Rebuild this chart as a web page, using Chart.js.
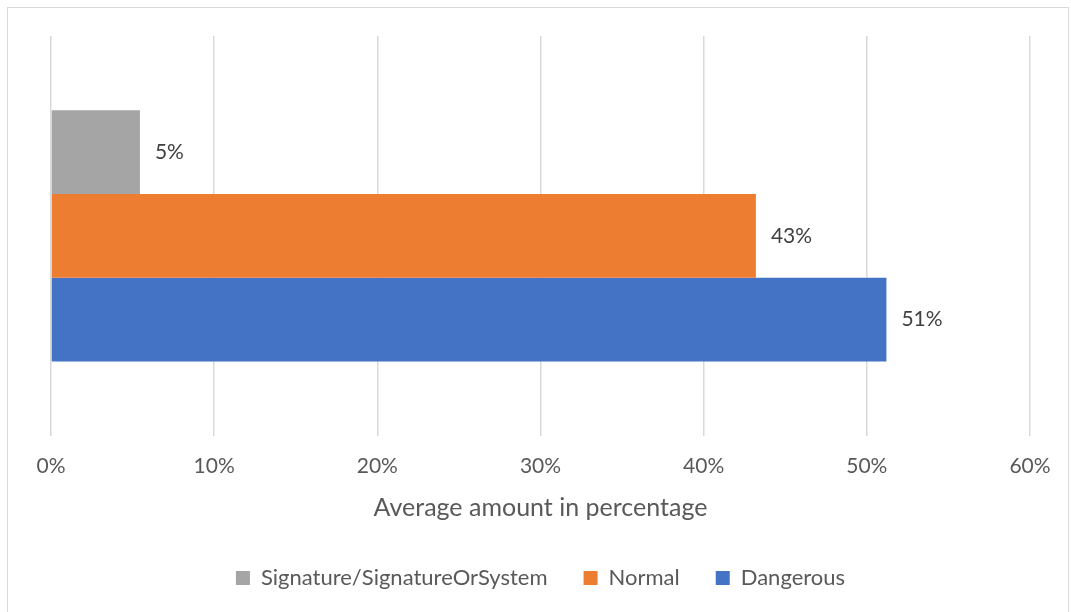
<!DOCTYPE html>
<html>
<head>
    <title>Permission levels</title>
    <style>
        body {
            margin: 0;
            padding: 0;
            background: #ffffff;
        }
        #frame {
            position: absolute;
            left: 7px;
            top: 7px;
            width: 1060px;
            height: 620px;
            border: 1px solid #d9d9d9;
        }
        #chart-container {
            position: absolute;
            left: 0;
            top: 0;
            width: 1071px;
            height: 612px;
        }
    </style>
</head>
<body>
<div id="frame"></div>
<div id="chart-container">
    <canvas id="chart"></canvas>
</div>
<script src="https://cdn.jsdelivr.net/npm/chart.js"></script>
<script>
    // Chart data
    const categories = [''];
    const seriesNames = ['Signature/SignatureOrSystem', 'Normal', 'Dangerous'];
    const signatureValues = [5.45];
    const normalValues = [43.2];
    const dangerousValues = [51.2];
    const xTickValues = [0, 10, 20, 30, 40, 50, 60];

    const seriesColors = ['#a5a5a5', '#ed7d31', '#4472c4'];
    const fontFamily = 'Lato, "Noto Sans", sans-serif';

    // draw the value at the end of each bar
    const barLabels = {
      id: 'barLabels',
      afterDatasetsDraw(chart) {
        const ctx = chart.ctx;
        ctx.save();
        ctx.font = '21px ' + fontFamily;
        ctx.fillStyle = '#404040';
        ctx.textBaseline = 'middle';
        ctx.textAlign = 'left';
        chart.data.datasets.forEach((ds, i) => {
          chart.getDatasetMeta(i).data.forEach((bar, j) => {
            ctx.fillText(Math.round(ds.data[j]) + '%', bar.x + 15, bar.y);
          });
        });
        ctx.restore();
      }
    };

    const allSeries = [signatureValues, normalValues, dangerousValues];

    const ctx = document.getElementById('chart').getContext('2d');
    const chart = new Chart(ctx, {
      type: 'bar',
      data: {
        labels: categories,
        datasets: seriesNames.map((name, i) => ({
          label: name,
          data: allSeries[i],
          backgroundColor: seriesColors[i],
          borderWidth: 0,
          categoryPercentage: 0.628,
          barPercentage: 1,
        })),
      },
      options: {
        indexAxis: 'y',
        responsive: true,
        maintainAspectRatio: false,
        animation: false,
        layout: {
          padding: { left: 51, right: 41, top: 36, bottom: 13 },
        },
        scales: {
          x: {
            min: xTickValues[0],
            max: xTickValues[xTickValues.length - 1],
            afterBuildTicks: (axis) => {
              axis.ticks = xTickValues.map(v => ({ value: v }));
            },
            ticks: {
              callback: (v) => v + '%',
              color: '#595959',
              font: { family: fontFamily, size: 21 },
              padding: 18,
              maxRotation: 0,
            },
            grid: {
              color: '#d9d9d9',
              lineWidth: 1.5,
              drawTicks: false,
            },
            border: { display: false },
            title: {
              display: true,
              text: 'Average amount in percentage',
              color: '#595959',
              font: { family: fontFamily, size: 25 },
              padding: { top: -4, bottom: 8 },
            },
          },
          y: {
            display: false,
          },
        },
        plugins: {
          legend: {
            position: 'bottom',
            labels: {
              color: '#595959',
              font: { family: fontFamily, size: 22 },
              boxWidth: 14,
              boxHeight: 14,
              padding: 36,
            },
          },
          tooltip: { enabled: false },
        },
      },
      plugins: [barLabels],
    });
</script>
</body>
</html>
